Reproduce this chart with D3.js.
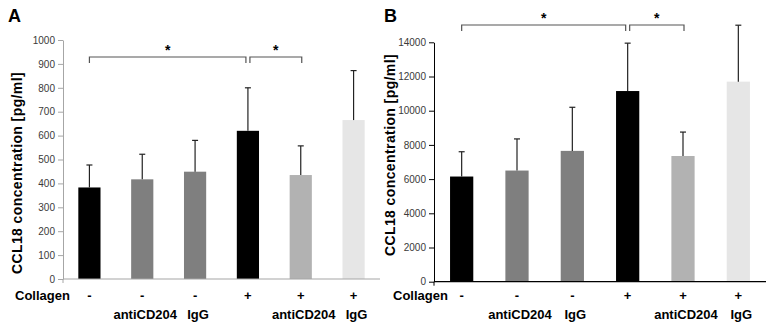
<!DOCTYPE html>
<html>
<head>
<meta charset="utf-8">
<script src="https://cdn.jsdelivr.net/npm/d3@7"></script>
<style>
  body { margin: 0; background: #fff; }
  svg { font-family: "Liberation Sans", Arial, sans-serif; }
</style>
</head>
<body>
<div id="chart"></div>
<script>
// groups (bars) shared by both panels
var groups = ['g1', 'g2', 'g3', 'g4', 'g5', 'g6'];
var collagenRow = ['-', '-', '-', '+', '+', '+'];
var treatmentRow = ['', 'antiCD204', 'IgG', '', 'antiCD204', 'IgG'];
var barColors = ['#000000', '#7f7f7f', '#7f7f7f', '#000000', '#b2b2b2', '#e6e6e6'];

// panel A (pg/ml)
var meansA = [383, 417, 449, 620, 435, 665];
var errTopA = [477, 522, 580, 800, 557, 872];
var ticksA = [0, 100, 200, 300, 400, 500, 600, 700, 800, 900, 1000];

// panel B (pg/ml)
var meansB = [6150, 6500, 7650, 11150, 7350, 11700];
var errTopB = [7600, 8350, 10200, 13950, 8750, 15000];
var ticksB = [0, 2000, 4000, 6000, 8000, 10000, 12000, 14000];

// significance brackets: [from group, to group]
var bracketsA = [['g1', 'g4'], ['g4', 'g5']];
var bracketsB = [['g1', 'g4'], ['g4', 'g5']];

var svg = d3.select('#chart').append('svg')
  .attr('width', 774).attr('height', 329);

function drawPanel(cfg) {
  var g = svg.append('g');
  var x = d3.scaleBand().domain(groups).range([cfg.x0, cfg.x1]).paddingInner(0.58).paddingOuter(0.29);
  var y = d3.scaleLinear().domain([0, cfg.max]).range([cfg.y0, cfg.y1]);

  // y axis
  var ya = g.append('g').attr('transform', 'translate(' + cfg.x0 + ',0)')
    .call(d3.axisLeft(y).tickValues(cfg.ticks).tickSize(5).tickSizeOuter(0).tickPadding(3)
      .tickFormat(d3.format('d')));
  ya.select('.domain').attr('stroke', cfg.axisColor);
  ya.selectAll('.tick line').attr('stroke', cfg.axisColor);
  ya.selectAll('text').style('fill', '#3a3a3a').style('font-size', '10px')
    .style('font-family', '"Liberation Sans", Arial, sans-serif');

  // bars
  g.selectAll('rect.bar').data(groups).enter().append('rect')
    .attr('x', function(d) { return x(d); })
    .attr('width', x.bandwidth())
    .attr('y', function(d, i) { return y(cfg.means[i]); })
    .attr('height', function(d, i) { return cfg.y0 - y(cfg.means[i]); })
    .attr('fill', function(d, i) { return barColors[i]; });

  // error bars (upper only)
  var eb = g.selectAll('g.err').data(groups).enter().append('g');
  eb.append('line')
    .attr('x1', function(d) { return x(d) + x.bandwidth() / 2; })
    .attr('x2', function(d) { return x(d) + x.bandwidth() / 2; })
    .attr('y1', function(d, i) { return y(cfg.means[i]); })
    .attr('y2', function(d, i) { return y(cfg.errTop[i]); })
    .attr('stroke', '#222').attr('stroke-width', 1.2);
  eb.append('line')
    .attr('x1', function(d) { return x(d) + x.bandwidth() / 2 - 3; })
    .attr('x2', function(d) { return x(d) + x.bandwidth() / 2 + 3; })
    .attr('y1', function(d, i) { return y(cfg.errTop[i]); })
    .attr('y2', function(d, i) { return y(cfg.errTop[i]); })
    .attr('stroke', '#222').attr('stroke-width', 1.2);

  // x axis line
  g.append('line')
    .attr('x1', cfg.x0).attr('x2', cfg.x1)
    .attr('y1', cfg.y0).attr('y2', cfg.y0)
    .attr('stroke', cfg.axisColor).attr('stroke-width', 1.2);
  g.append('line')
    .attr('x1', cfg.x0).attr('x2', cfg.x0)
    .attr('y1', cfg.y0).attr('y2', cfg.y0 + 4)
    .attr('stroke', cfg.axisColor);

  // brackets
  cfg.brackets.forEach(function(b, k) {
    var xa = x(b[0]) + x.bandwidth() / 2 + (k === 1 ? 2 : 0);
    var xb = x(b[1]) + x.bandwidth() / 2 - (k === 0 ? 2 : 0);
    if (k === 1) xb += 1;
    g.append('path')
      .attr('d', 'M' + xa + ',' + (cfg.brY + 6) + 'V' + cfg.brY + 'H' + xb + 'V' + (cfg.brY + 6))
      .attr('fill', 'none').attr('stroke', '#555').attr('stroke-width', 1.2);
    g.append('text')
      .attr('x', (xa + xb) / 2).attr('y', cfg.brY - 2)
      .attr('text-anchor', 'middle')
      .style('font-size', '14px').style('font-weight', 'bold')
      .text('*');
  });

  // category rows
  g.append('text').attr('x', cfg.collX).attr('y', 300)
    .style('font-size', '13px').style('font-weight', 'bold').text('Collagen');
  g.selectAll('text.sign').data(groups).enter().append('text')
    .attr('x', function(d) { return x(d) + x.bandwidth() / 2; })
    .attr('y', 300)
    .attr('text-anchor', 'middle')
    .style('font-size', '13px').style('font-weight', 'bold')
    .text(function(d, i) { return collagenRow[i]; });
  g.selectAll('text.treat').data(groups).enter().append('text')
    .attr('x', function(d) { return x(d) + x.bandwidth() / 2 + 3; })
    .attr('y', 319)
    .attr('text-anchor', 'middle')
    .style('font-size', '13px').style('font-weight', 'bold')
    .text(function(d, i) { return treatmentRow[i]; });

  // y label
  g.append('text')
    .attr('transform', 'translate(' + cfg.labX + ',' + cfg.labY + ') rotate(-90)')
    .attr('text-anchor', 'middle')
    .style('font-size', '14px').style('font-weight', 'bold')
    .style('letter-spacing', '0.4px')
    .text('CCL18 concentration [pg/ml]');

  // panel letter
  g.append('text').attr('x', cfg.letterX).attr('y', 22)
    .style('font-size', '18px').style('font-weight', 'bold')
    .text(cfg.letter);
}

drawPanel({
  letter: 'A', letterX: 8,
  x0: 63, x1: 380, y0: 279, y1: 40, max: 1000,
  ticks: ticksA, means: meansA, errTop: errTopA,
  brackets: bracketsA, brY: 57, axisColor: '#a6a6a6',
  collX: 15, labX: 22, labY: 173
});

drawPanel({
  letter: 'B', letterX: 384,
  x0: 434, x1: 766, y0: 281.7, y1: 42.3, max: 14000,
  ticks: ticksB, means: meansB, errTop: errTopB,
  brackets: bracketsB, brY: 25, axisColor: '#000',
  collX: 393, labX: 395, labY: 155
});
</script>
</body>
</html>
